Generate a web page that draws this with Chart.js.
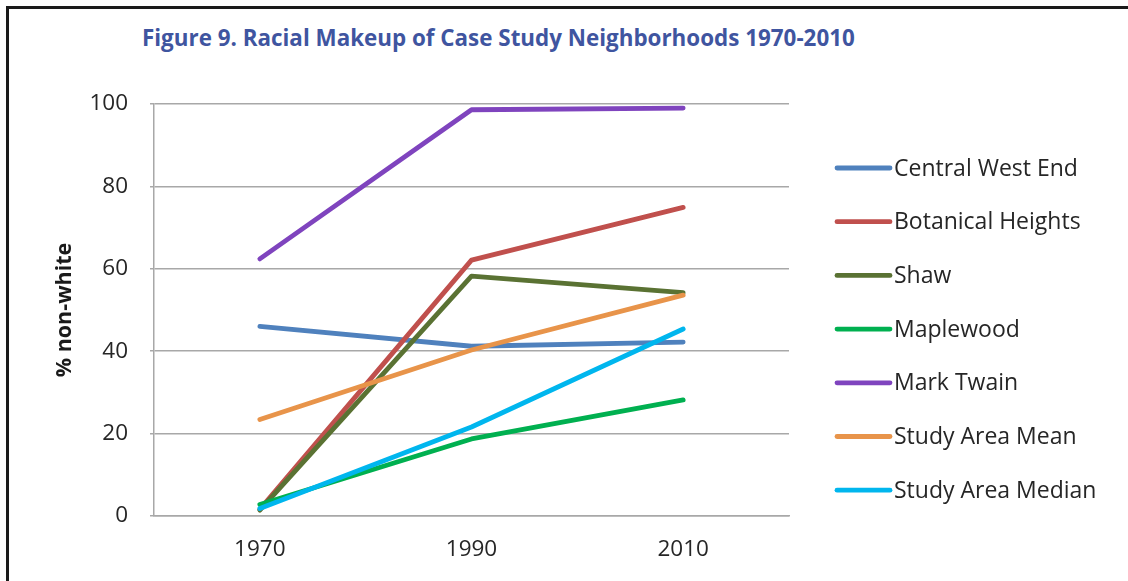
<!DOCTYPE html>
<html>
<head>
<meta charset="utf-8">
<script src="https://cdn.jsdelivr.net/npm/chart.js@4.4.1/dist/chart.umd.min.js"></script>
<style>
  html, body { margin: 0; padding: 0; background: #ffffff; }
  #wrap { position: relative; width: 1128px; height: 581px; overflow: hidden; background: #fff; }
  #frame { position: absolute; left: 6px; top: 6px; width: 1130px; height: 590px;
           border-top: 3px solid #1a1a1a; border-left: 3px solid #1a1a1a; box-sizing: border-box; }
  #title { position: absolute; left: 142px; top: 23px; font-family: "Open Sans", sans-serif;
           font-weight: 700; font-size: 22.4px; color: #3F55A0; white-space: nowrap;
           line-height: 30px; }
  canvas { position: absolute; left: 0; top: 0; }
</style>
</head>
<body>
<div id="wrap">
  <div id="frame"></div>
  <div id="title">Figure 9. Racial Makeup of Case Study Neighborhoods 1970-2010</div>
  <canvas id="c" width="1128" height="581"></canvas>
</div>
<script>
// ---- Data ----
const years = ['1970', '1990', '2010'];
const seriesNames = ['Central West End', 'Botanical Heights', 'Shaw', 'Maplewood', 'Mark Twain', 'Study Area Mean', 'Study Area Median'];
const centralWestEnd   = [46.0, 41.2, 42.2];
const botanicalHeights = [1.6, 62.1, 74.9];
const shaw             = [1.4, 58.2, 54.2];
const maplewood        = [2.8, 18.7, 28.2];
const markTwain        = [62.4, 98.6, 99.0];
const studyAreaMean    = [23.4, 40.3, 53.6];
const studyAreaMedian  = [1.8, 21.6, 45.4];
const yTicks = [0, 20, 40, 60, 80, 100];
const yAxisTitle = '% non-white';

const seriesValues = [centralWestEnd, botanicalHeights, shaw, maplewood, markTwain, studyAreaMean, studyAreaMedian];
const colors = ['#4F81BD', '#C0504D', '#5A7233', '#00B050', '#7F44BE', '#E8944A', '#00B6EE'];

const datasets = seriesNames.map((name, i) => ({
  label: name,
  data: seriesValues[i],
  borderColor: colors[i],
  backgroundColor: colors[i],
  borderWidth: 4.8,
  borderCapStyle: 'round',
  borderJoinStyle: 'round',
  pointRadius: 0,
  pointHoverRadius: 0,
  tension: 0,
  fill: false,
  order: seriesNames.length - i
}));

const textColor = '#262626';
const gridColor = '#A8A8A8';

const sideLegend = {
  id: 'sideLegend',
  afterDraw(chart) {
    const ctx = chart.ctx;
    ctx.save();
    ctx.font = '23px "Open Sans", sans-serif';
    ctx.textBaseline = 'middle';
    ctx.textAlign = 'left';
    chart.data.datasets.forEach((ds, i) => {
      const y = 168 + i * 53.7;
      ctx.strokeStyle = ds.borderColor;
      ctx.lineWidth = 4.8;
      ctx.lineCap = 'round';
      ctx.beginPath();
      ctx.moveTo(837, y);
      ctx.lineTo(890, y);
      ctx.stroke();
      ctx.fillStyle = textColor;
      ctx.fillText(ds.label, 894, y + 1);
    });
    ctx.restore();
  }
};

new Chart(document.getElementById('c'), {
  type: 'line',
  data: { labels: years, datasets },
  plugins: [sideLegend],
  options: {
    responsive: false,
    animation: false,
    devicePixelRatio: 1,
    layout: { padding: { top: 104, right: 339, left: 0, bottom: 0 } },
    plugins: { legend: { display: false }, title: { display: false }, tooltip: { enabled: false } },
    scales: {
      x: {
        type: 'category',
        offset: true,
        grid: { display: false, drawTicks: false },
        border: { display: true, color: gridColor, width: 1.5 },
        ticks: { color: textColor, font: { family: 'Open Sans', size: 22.5 }, padding: 20, maxRotation: 0 },
        afterFit(scale) { scale.height = 65; }
      },
      y: {
        min: 0, max: 100,
        afterBuildTicks(scale) { scale.ticks = yTicks.map(v => ({ value: v })); },
        grid: { color: gridColor, lineWidth: 1.5, tickLength: 4, drawTicks: true },
        border: { display: true, color: gridColor, width: 1.5 },
        ticks: { color: textColor, font: { family: 'Open Sans', size: 22.5 }, padding: 22 },
        title: { display: true, text: yAxisTitle, color: '#1a1a1a',
                 font: { family: 'Open Sans', size: 21.5, weight: 'bold' }, padding: { top: 52, bottom: 0 } },
        afterFit(scale) { scale.width = 154; }
      }
    }
  }
});
</script>
</body>
</html>
